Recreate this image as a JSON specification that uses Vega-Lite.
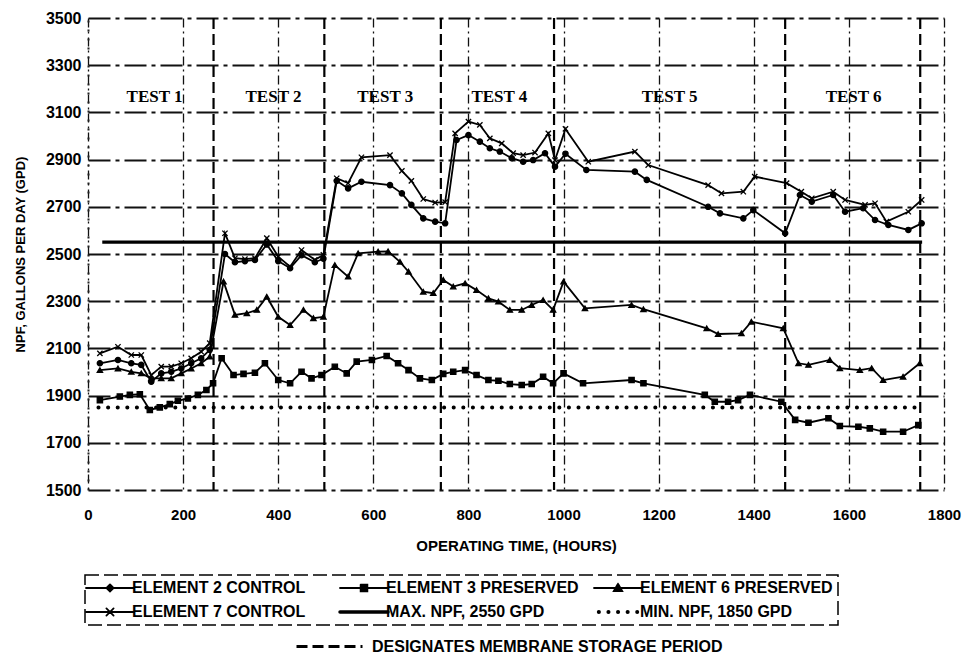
{
  "$schema": "https://vega.github.io/schema/vega-lite/v6.json",
  "width": 856,
  "height": 472,
  "autosize": {"type": "none"},
  "padding": {"left": 88, "top": 18, "right": 20, "bottom": 164},
  "background": "white",
  "config": {"view": {"stroke": null}, "font": "Liberation Sans"},
  "datasets": {
    "elements": [
      {"s":"ELEMENT 7 CONTROL","h":25,"g":2079},{"s":"ELEMENT 7 CONTROL","h":63,"g":2107},{"s":"ELEMENT 7 CONTROL","h":91,"g":2072},{"s":"ELEMENT 7 CONTROL","h":112,"g":2072},{"s":"ELEMENT 7 CONTROL","h":133,"g":1987},{"s":"ELEMENT 7 CONTROL","h":154,"g":2023},{"s":"ELEMENT 7 CONTROL","h":175,"g":2023},{"s":"ELEMENT 7 CONTROL","h":196,"g":2037},{"s":"ELEMENT 7 CONTROL","h":217,"g":2058},{"s":"ELEMENT 7 CONTROL","h":238,"g":2086},{"s":"ELEMENT 7 CONTROL","h":256,"g":2122},
      {"s":"ELEMENT 7 CONTROL","h":288,"g":2588},{"s":"ELEMENT 7 CONTROL","h":309,"g":2482},{"s":"ELEMENT 7 CONTROL","h":330,"g":2478},{"s":"ELEMENT 7 CONTROL","h":351,"g":2482},{"s":"ELEMENT 7 CONTROL","h":376,"g":2567},{"s":"ELEMENT 7 CONTROL","h":400,"g":2489},{"s":"ELEMENT 7 CONTROL","h":425,"g":2446},{"s":"ELEMENT 7 CONTROL","h":449,"g":2517},{"s":"ELEMENT 7 CONTROL","h":477,"g":2475},{"s":"ELEMENT 7 CONTROL","h":495,"g":2496},
      {"s":"ELEMENT 7 CONTROL","h":523,"g":2821},{"s":"ELEMENT 7 CONTROL","h":547,"g":2800},{"s":"ELEMENT 7 CONTROL","h":575,"g":2910},{"s":"ELEMENT 7 CONTROL","h":635,"g":2919},{"s":"ELEMENT 7 CONTROL","h":660,"g":2852},{"s":"ELEMENT 7 CONTROL","h":680,"g":2810},{"s":"ELEMENT 7 CONTROL","h":705,"g":2733},{"s":"ELEMENT 7 CONTROL","h":730,"g":2718},{"s":"ELEMENT 7 CONTROL","h":751,"g":2720},
      {"s":"ELEMENT 7 CONTROL","h":772,"g":3011},{"s":"ELEMENT 7 CONTROL","h":800,"g":3061},{"s":"ELEMENT 7 CONTROL","h":824,"g":3047},{"s":"ELEMENT 7 CONTROL","h":845,"g":2990},{"s":"ELEMENT 7 CONTROL","h":870,"g":2969},{"s":"ELEMENT 7 CONTROL","h":894,"g":2927},{"s":"ELEMENT 7 CONTROL","h":915,"g":2919},{"s":"ELEMENT 7 CONTROL","h":940,"g":2930},{"s":"ELEMENT 7 CONTROL","h":968,"g":3011},{"s":"ELEMENT 7 CONTROL","h":982,"g":2898},{"s":"ELEMENT 7 CONTROL","h":1004,"g":3030},
      {"s":"ELEMENT 7 CONTROL","h":1052,"g":2891},{"s":"ELEMENT 7 CONTROL","h":1150,"g":2934},{"s":"ELEMENT 7 CONTROL","h":1178,"g":2877},{"s":"ELEMENT 7 CONTROL","h":1304,"g":2792},{"s":"ELEMENT 7 CONTROL","h":1332,"g":2757},{"s":"ELEMENT 7 CONTROL","h":1378,"g":2764},{"s":"ELEMENT 7 CONTROL","h":1402,"g":2828},{"s":"ELEMENT 7 CONTROL","h":1469,"g":2800},
      {"s":"ELEMENT 7 CONTROL","h":1500,"g":2764},{"s":"ELEMENT 7 CONTROL","h":1522,"g":2736},{"s":"ELEMENT 7 CONTROL","h":1567,"g":2764},{"s":"ELEMENT 7 CONTROL","h":1592,"g":2729},{"s":"ELEMENT 7 CONTROL","h":1634,"g":2708},{"s":"ELEMENT 7 CONTROL","h":1655,"g":2715},{"s":"ELEMENT 7 CONTROL","h":1679,"g":2637},{"s":"ELEMENT 7 CONTROL","h":1725,"g":2679},{"s":"ELEMENT 7 CONTROL","h":1753,"g":2729},

      {"s":"ELEMENT 2 CONTROL","h":25,"g":2037},{"s":"ELEMENT 2 CONTROL","h":63,"g":2051},{"s":"ELEMENT 2 CONTROL","h":91,"g":2037},{"s":"ELEMENT 2 CONTROL","h":112,"g":2030},{"s":"ELEMENT 2 CONTROL","h":133,"g":1959},{"s":"ELEMENT 2 CONTROL","h":154,"g":1994},{"s":"ELEMENT 2 CONTROL","h":175,"g":2001},{"s":"ELEMENT 2 CONTROL","h":196,"g":2015},{"s":"ELEMENT 2 CONTROL","h":217,"g":2037},{"s":"ELEMENT 2 CONTROL","h":238,"g":2058},{"s":"ELEMENT 2 CONTROL","h":256,"g":2094},
      {"s":"ELEMENT 2 CONTROL","h":288,"g":2500},{"s":"ELEMENT 2 CONTROL","h":309,"g":2465},{"s":"ELEMENT 2 CONTROL","h":330,"g":2470},{"s":"ELEMENT 2 CONTROL","h":351,"g":2475},{"s":"ELEMENT 2 CONTROL","h":376,"g":2540},{"s":"ELEMENT 2 CONTROL","h":400,"g":2470},{"s":"ELEMENT 2 CONTROL","h":425,"g":2440},{"s":"ELEMENT 2 CONTROL","h":449,"g":2495},{"s":"ELEMENT 2 CONTROL","h":477,"g":2465},{"s":"ELEMENT 2 CONTROL","h":495,"g":2480},
      {"s":"ELEMENT 2 CONTROL","h":523,"g":2810},{"s":"ELEMENT 2 CONTROL","h":547,"g":2778},{"s":"ELEMENT 2 CONTROL","h":575,"g":2806},{"s":"ELEMENT 2 CONTROL","h":635,"g":2792},{"s":"ELEMENT 2 CONTROL","h":660,"g":2757},{"s":"ELEMENT 2 CONTROL","h":680,"g":2708},{"s":"ELEMENT 2 CONTROL","h":705,"g":2651},{"s":"ELEMENT 2 CONTROL","h":730,"g":2637},{"s":"ELEMENT 2 CONTROL","h":751,"g":2630},
      {"s":"ELEMENT 2 CONTROL","h":775,"g":2983},{"s":"ELEMENT 2 CONTROL","h":800,"g":3004},{"s":"ELEMENT 2 CONTROL","h":824,"g":2976},{"s":"ELEMENT 2 CONTROL","h":845,"g":2948},{"s":"ELEMENT 2 CONTROL","h":866,"g":2934},{"s":"ELEMENT 2 CONTROL","h":891,"g":2906},{"s":"ELEMENT 2 CONTROL","h":915,"g":2891},{"s":"ELEMENT 2 CONTROL","h":936,"g":2898},{"s":"ELEMENT 2 CONTROL","h":961,"g":2927},{"s":"ELEMENT 2 CONTROL","h":982,"g":2870},{"s":"ELEMENT 2 CONTROL","h":1004,"g":2925},
      {"s":"ELEMENT 2 CONTROL","h":1048,"g":2856},{"s":"ELEMENT 2 CONTROL","h":1150,"g":2849},{"s":"ELEMENT 2 CONTROL","h":1175,"g":2814},{"s":"ELEMENT 2 CONTROL","h":1304,"g":2700},{"s":"ELEMENT 2 CONTROL","h":1329,"g":2672},{"s":"ELEMENT 2 CONTROL","h":1378,"g":2651},{"s":"ELEMENT 2 CONTROL","h":1399,"g":2686},{"s":"ELEMENT 2 CONTROL","h":1466,"g":2588},
      {"s":"ELEMENT 2 CONTROL","h":1497,"g":2750},{"s":"ELEMENT 2 CONTROL","h":1522,"g":2722},{"s":"ELEMENT 2 CONTROL","h":1567,"g":2750},{"s":"ELEMENT 2 CONTROL","h":1592,"g":2679},{"s":"ELEMENT 2 CONTROL","h":1630,"g":2694},{"s":"ELEMENT 2 CONTROL","h":1655,"g":2644},{"s":"ELEMENT 2 CONTROL","h":1683,"g":2623},{"s":"ELEMENT 2 CONTROL","h":1725,"g":2602},{"s":"ELEMENT 2 CONTROL","h":1753,"g":2630},

      {"s":"ELEMENT 6 PRESERVED","h":25,"g":2008},{"s":"ELEMENT 6 PRESERVED","h":63,"g":2015},{"s":"ELEMENT 6 PRESERVED","h":91,"g":2001},{"s":"ELEMENT 6 PRESERVED","h":112,"g":1994},{"s":"ELEMENT 6 PRESERVED","h":133,"g":1973},{"s":"ELEMENT 6 PRESERVED","h":154,"g":1973},{"s":"ELEMENT 6 PRESERVED","h":175,"g":1973},{"s":"ELEMENT 6 PRESERVED","h":196,"g":1994},{"s":"ELEMENT 6 PRESERVED","h":217,"g":2015},{"s":"ELEMENT 6 PRESERVED","h":238,"g":2037},{"s":"ELEMENT 6 PRESERVED","h":256,"g":2065},
      {"s":"ELEMENT 6 PRESERVED","h":285,"g":2383},{"s":"ELEMENT 6 PRESERVED","h":309,"g":2242},{"s":"ELEMENT 6 PRESERVED","h":334,"g":2249},{"s":"ELEMENT 6 PRESERVED","h":355,"g":2263},{"s":"ELEMENT 6 PRESERVED","h":376,"g":2319},{"s":"ELEMENT 6 PRESERVED","h":400,"g":2234},{"s":"ELEMENT 6 PRESERVED","h":425,"g":2199},{"s":"ELEMENT 6 PRESERVED","h":453,"g":2263},{"s":"ELEMENT 6 PRESERVED","h":474,"g":2228},{"s":"ELEMENT 6 PRESERVED","h":495,"g":2234},
      {"s":"ELEMENT 6 PRESERVED","h":519,"g":2453},{"s":"ELEMENT 6 PRESERVED","h":547,"g":2404},{"s":"ELEMENT 6 PRESERVED","h":568,"g":2503},{"s":"ELEMENT 6 PRESERVED","h":610,"g":2510},{"s":"ELEMENT 6 PRESERVED","h":631,"g":2511},{"s":"ELEMENT 6 PRESERVED","h":656,"g":2467},{"s":"ELEMENT 6 PRESERVED","h":674,"g":2425},{"s":"ELEMENT 6 PRESERVED","h":705,"g":2340},{"s":"ELEMENT 6 PRESERVED","h":726,"g":2334},{"s":"ELEMENT 6 PRESERVED","h":747,"g":2390},
      {"s":"ELEMENT 6 PRESERVED","h":768,"g":2362},{"s":"ELEMENT 6 PRESERVED","h":793,"g":2376},{"s":"ELEMENT 6 PRESERVED","h":817,"g":2347},{"s":"ELEMENT 6 PRESERVED","h":842,"g":2312},{"s":"ELEMENT 6 PRESERVED","h":863,"g":2298},{"s":"ELEMENT 6 PRESERVED","h":887,"g":2263},{"s":"ELEMENT 6 PRESERVED","h":912,"g":2263},{"s":"ELEMENT 6 PRESERVED","h":933,"g":2284},{"s":"ELEMENT 6 PRESERVED","h":957,"g":2305},{"s":"ELEMENT 6 PRESERVED","h":978,"g":2263},{"s":"ELEMENT 6 PRESERVED","h":1000,"g":2383},
      {"s":"ELEMENT 6 PRESERVED","h":1045,"g":2270},{"s":"ELEMENT 6 PRESERVED","h":1143,"g":2284},{"s":"ELEMENT 6 PRESERVED","h":1168,"g":2266},{"s":"ELEMENT 6 PRESERVED","h":1301,"g":2185},{"s":"ELEMENT 6 PRESERVED","h":1325,"g":2161},{"s":"ELEMENT 6 PRESERVED","h":1374,"g":2164},{"s":"ELEMENT 6 PRESERVED","h":1395,"g":2213},{"s":"ELEMENT 6 PRESERVED","h":1462,"g":2185},
      {"s":"ELEMENT 6 PRESERVED","h":1494,"g":2037},{"s":"ELEMENT 6 PRESERVED","h":1515,"g":2030},{"s":"ELEMENT 6 PRESERVED","h":1560,"g":2051},{"s":"ELEMENT 6 PRESERVED","h":1581,"g":2016},{"s":"ELEMENT 6 PRESERVED","h":1623,"g":2008},{"s":"ELEMENT 6 PRESERVED","h":1648,"g":2016},{"s":"ELEMENT 6 PRESERVED","h":1672,"g":1966},{"s":"ELEMENT 6 PRESERVED","h":1714,"g":1980},{"s":"ELEMENT 6 PRESERVED","h":1749,"g":2037},

      {"s":"ELEMENT 3 PRESERVED","h":25,"g":1881},{"s":"ELEMENT 3 PRESERVED","h":67,"g":1896},{"s":"ELEMENT 3 PRESERVED","h":88,"g":1903},{"s":"ELEMENT 3 PRESERVED","h":109,"g":1906},{"s":"ELEMENT 3 PRESERVED","h":130,"g":1839},{"s":"ELEMENT 3 PRESERVED","h":151,"g":1850},{"s":"ELEMENT 3 PRESERVED","h":172,"g":1864},{"s":"ELEMENT 3 PRESERVED","h":189,"g":1878},{"s":"ELEMENT 3 PRESERVED","h":210,"g":1888},{"s":"ELEMENT 3 PRESERVED","h":231,"g":1903},{"s":"ELEMENT 3 PRESERVED","h":249,"g":1924},{"s":"ELEMENT 3 PRESERVED","h":263,"g":1952},
      {"s":"ELEMENT 3 PRESERVED","h":281,"g":2058},{"s":"ELEMENT 3 PRESERVED","h":306,"g":1987},{"s":"ELEMENT 3 PRESERVED","h":327,"g":1992},{"s":"ELEMENT 3 PRESERVED","h":351,"g":1997},{"s":"ELEMENT 3 PRESERVED","h":372,"g":2037},{"s":"ELEMENT 3 PRESERVED","h":400,"g":1966},{"s":"ELEMENT 3 PRESERVED","h":425,"g":1952},{"s":"ELEMENT 3 PRESERVED","h":449,"g":2001},{"s":"ELEMENT 3 PRESERVED","h":470,"g":1973},{"s":"ELEMENT 3 PRESERVED","h":491,"g":1987},
      {"s":"ELEMENT 3 PRESERVED","h":519,"g":2022},{"s":"ELEMENT 3 PRESERVED","h":544,"g":1994},{"s":"ELEMENT 3 PRESERVED","h":565,"g":2044},{"s":"ELEMENT 3 PRESERVED","h":597,"g":2051},{"s":"ELEMENT 3 PRESERVED","h":628,"g":2068},{"s":"ELEMENT 3 PRESERVED","h":652,"g":2037},{"s":"ELEMENT 3 PRESERVED","h":674,"g":2008},{"s":"ELEMENT 3 PRESERVED","h":698,"g":1973},{"s":"ELEMENT 3 PRESERVED","h":723,"g":1966},{"s":"ELEMENT 3 PRESERVED","h":747,"g":1992},
      {"s":"ELEMENT 3 PRESERVED","h":768,"g":2001},{"s":"ELEMENT 3 PRESERVED","h":793,"g":2008},{"s":"ELEMENT 3 PRESERVED","h":817,"g":1987},{"s":"ELEMENT 3 PRESERVED","h":842,"g":1966},{"s":"ELEMENT 3 PRESERVED","h":863,"g":1963},{"s":"ELEMENT 3 PRESERVED","h":887,"g":1949},{"s":"ELEMENT 3 PRESERVED","h":912,"g":1945},{"s":"ELEMENT 3 PRESERVED","h":933,"g":1949},{"s":"ELEMENT 3 PRESERVED","h":957,"g":1980},{"s":"ELEMENT 3 PRESERVED","h":978,"g":1952},{"s":"ELEMENT 3 PRESERVED","h":1000,"g":1994},
      {"s":"ELEMENT 3 PRESERVED","h":1041,"g":1952},{"s":"ELEMENT 3 PRESERVED","h":1143,"g":1966},{"s":"ELEMENT 3 PRESERVED","h":1168,"g":1952},{"s":"ELEMENT 3 PRESERVED","h":1297,"g":1903},{"s":"ELEMENT 3 PRESERVED","h":1318,"g":1874},{"s":"ELEMENT 3 PRESERVED","h":1346,"g":1874},{"s":"ELEMENT 3 PRESERVED","h":1367,"g":1881},{"s":"ELEMENT 3 PRESERVED","h":1392,"g":1903},{"s":"ELEMENT 3 PRESERVED","h":1458,"g":1874},
      {"s":"ELEMENT 3 PRESERVED","h":1487,"g":1797},{"s":"ELEMENT 3 PRESERVED","h":1515,"g":1785},{"s":"ELEMENT 3 PRESERVED","h":1557,"g":1804},{"s":"ELEMENT 3 PRESERVED","h":1581,"g":1771},{"s":"ELEMENT 3 PRESERVED","h":1620,"g":1768},{"s":"ELEMENT 3 PRESERVED","h":1644,"g":1761},{"s":"ELEMENT 3 PRESERVED","h":1672,"g":1747},{"s":"ELEMENT 3 PRESERVED","h":1714,"g":1747},{"s":"ELEMENT 3 PRESERVED","h":1746,"g":1775}
    ],
    "maxline": [
      {"s":"MAX. NPF, 2550 GPD","h":30,"g":2550},{"s":"MAX. NPF, 2550 GPD","h":1754,"g":2550}
    ],
    "minline": [
      {"s":"MIN. NPF, 1850 GPD","h":22,"g":1850},{"s":"MIN. NPF, 1850 GPD","h":1750,"g":1850}
    ],
    "storage": [
      {"h":264,"k":"DESIGNATES MEMBRANE STORAGE PERIOD"},{"h":497,"k":"DESIGNATES MEMBRANE STORAGE PERIOD"},{"h":742,"k":"DESIGNATES MEMBRANE STORAGE PERIOD"},{"h":980,"k":"DESIGNATES MEMBRANE STORAGE PERIOD"},{"h":1466,"k":"DESIGNATES MEMBRANE STORAGE PERIOD"},{"h":1750,"k":"DESIGNATES MEMBRANE STORAGE PERIOD"}
    ],
    "tests": [
      {"t":"TEST 1","h":140,"g":3165},{"t":"TEST 2","h":390,"g":3165},{"t":"TEST 3","h":625,"g":3165},{"t":"TEST 4","h":865,"g":3165},{"t":"TEST 5","h":1223,"g":3165},{"t":"TEST 6","h":1610,"g":3165}
    ]
  },
  "encoding": {
    "x": {
      "field": "h", "type": "quantitative",
      "scale": {"domain": [0, 1800], "nice": false},
      "axis": {
        "values": [0,200,400,600,800,1000,1200,1400,1600,1800],
        "format": "d", "labelFlush": false,
        "title": "OPERATING TIME, (HOURS)",
        "grid": true, "gridColor": "#111", "gridDash": [9,4,2,4], "gridWidth": 1.3,
        "domain": false, "ticks": false,
        "labelFont": "Liberation Sans", "labelFontWeight": "bold", "labelFontSize": 15, "labelColor": "black", "labelPadding": 17,
        "titleFont": "Liberation Sans", "titleFontWeight": "bold", "titleFontSize": 15, "titleColor": "black", "titlePadding": 16
      }
    },
    "y": {
      "field": "g", "type": "quantitative",
      "scale": {"domain": [1500, 3500], "nice": false, "zero": false},
      "axis": {
        "values": [1500,1700,1900,2100,2300,2500,2700,2900,3100,3300,3500],
        "format": "d", "labelFlush": false,
        "title": "NPF, GALLONS PER DAY (GPD)",
        "grid": true, "gridColor": "#111", "gridDash": [22,5,4,5], "gridWidth": 1.8,
        "domain": true, "domainColor": "#222", "domainDash": [2,7], "domainWidth": 2, "ticks": false,
        "labelFont": "Liberation Sans", "labelFontWeight": "bold", "labelFontSize": 16, "labelColor": "black", "labelPadding": 7,
        "titleFont": "Liberation Sans", "titleFontWeight": "bold", "titleFontSize": 13, "titleColor": "black", "titlePadding": 18
      }
    }
  },
  "layer": [
    {
      "data": {"name": "storage"},
      "mark": {"type": "rule", "strokeWidth": 2.2, "color": "black"},
      "encoding": {
        "x": {"field": "h", "type": "quantitative"},
        "y": null,
        "strokeDash": {
          "field": "k", "type": "nominal",
          "scale": {"range": [[11, 5]]},
          "legend": {
            "orient": "none", "legendX": 207, "legendY": 615, "title": null, "padding": 0,
            "symbolType": "M-1,0H4.5", "symbolSize": 576, "symbolStrokeWidth": 3, "symbolStrokeColor": "black",
            "labelOffset": 50, "labelFont": "Liberation Sans", "labelFontWeight": "bold", "labelFontSize": 16, "labelColor": "black", "labelLimit": 500,
            "encode": {"labels": {"update": {"fontWeight": {"value": "bold"}}}}
          }
        }
      }
    },
    {
      "data": {"name": "maxline"},
      "mark": {"type": "line", "strokeWidth": 3.2},
      "encoding": {"color": {"field": "s", "type": "nominal"}}
    },
    {
      "data": {"name": "minline"},
      "mark": {"type": "line", "strokeWidth": 4, "strokeDash": [0.1, 9.5], "strokeCap": "round"},
      "encoding": {"color": {"field": "s", "type": "nominal"}}
    },
    {
      "data": {"name": "elements"},
      "mark": {"type": "line", "strokeWidth": 1.8},
      "encoding": {
        "color": {
          "field": "s", "type": "nominal",
          "scale": {
            "domain": ["ELEMENT 2 CONTROL","ELEMENT 7 CONTROL","ELEMENT 3 PRESERVED","MAX. NPF, 2550 GPD","ELEMENT 6 PRESERVED","MIN. NPF, 1850 GPD"],
            "range": ["black","black","black","black","black","black"]
          },
          "legend": {
            "orient": "none", "legendX": -3, "legendY": 557, "title": null,
            "columns": 3, "gridAlign": "all", "columnPadding": 8, "rowPadding": 8,
            "symbolSize": 576, "labelOffset": 26, "padding": 5,
            "strokeColor": "black",
            "labelFont": "Liberation Sans", "labelFontWeight": "bold", "labelFontSize": 16, "labelColor": "black", "labelLimit": 400,
            "encode": {
              "legend": {"update": {"strokeDash": {"value": [14, 5]}, "strokeWidth": {"value": 1.5}}},
              "labels": {"update": {"fontWeight": {"value": "bold"}}},
              "symbols": {
                "update": {
                  "shape": {"signal": "datum.value == 'ELEMENT 2 CONTROL' ? 'M-1,0H3M1,-0.3L1.3,0L1,0.3L0.7,0Z' : datum.value == 'ELEMENT 3 PRESERVED' ? 'M-1,0H3M0.72,-0.28H1.28V0.28H0.72Z' : datum.value == 'ELEMENT 6 PRESERVED' ? 'M-1,0H3M1,-0.35L1.35,0.25H0.65Z' : datum.value == 'ELEMENT 7 CONTROL' ? 'M-1,0H3M0.7,-0.3L1.3,0.3M0.7,0.3L1.3,-0.3' : datum.value == 'MAX. NPF, 2550 GPD' ? 'M-1,0H3' : 'M-0.6,0H2.6'"},
                  "fill": {"value": "black"},
                  "stroke": {"value": "black"},
                  "opacity": {"value": 1},
                  "strokeWidth": {"signal": "datum.value == 'MAX. NPF, 2550 GPD' ? 3.5 : datum.value == 'MIN. NPF, 1850 GPD' ? 4 : 1.8"},
                  "strokeDash": {"signal": "datum.value == 'MIN. NPF, 1850 GPD' ? [0.1, 9.5] : [100, 0]"},
                  "strokeCap": {"value": "round"}
                }
              }
            }
          }
        }
      }
    },
    {
      "data": {"name": "elements"},
      "mark": {"type": "point", "filled": true, "size": 28, "stroke": "black", "strokeWidth": 1.3, "opacity": 1},
      "encoding": {
        "color": {"field": "s", "type": "nominal"},
        "shape": {
          "field": "s", "type": "nominal",
          "scale": {
            "domain": ["ELEMENT 2 CONTROL","ELEMENT 3 PRESERVED","ELEMENT 6 PRESERVED","ELEMENT 7 CONTROL"],
            "range": ["circle","square","triangle-up","M-1,-1L1,1M-1,1L1,-1"]
          },
          "legend": null
        }
      }
    },
    {
      "data": {"name": "tests"},
      "mark": {"type": "text", "font": "Liberation Serif", "fontWeight": "bold", "fontSize": 17, "color": "black", "align": "center", "baseline": "middle"},
      "encoding": {"text": {"field": "t", "type": "nominal"}}
    }
  ]
}
